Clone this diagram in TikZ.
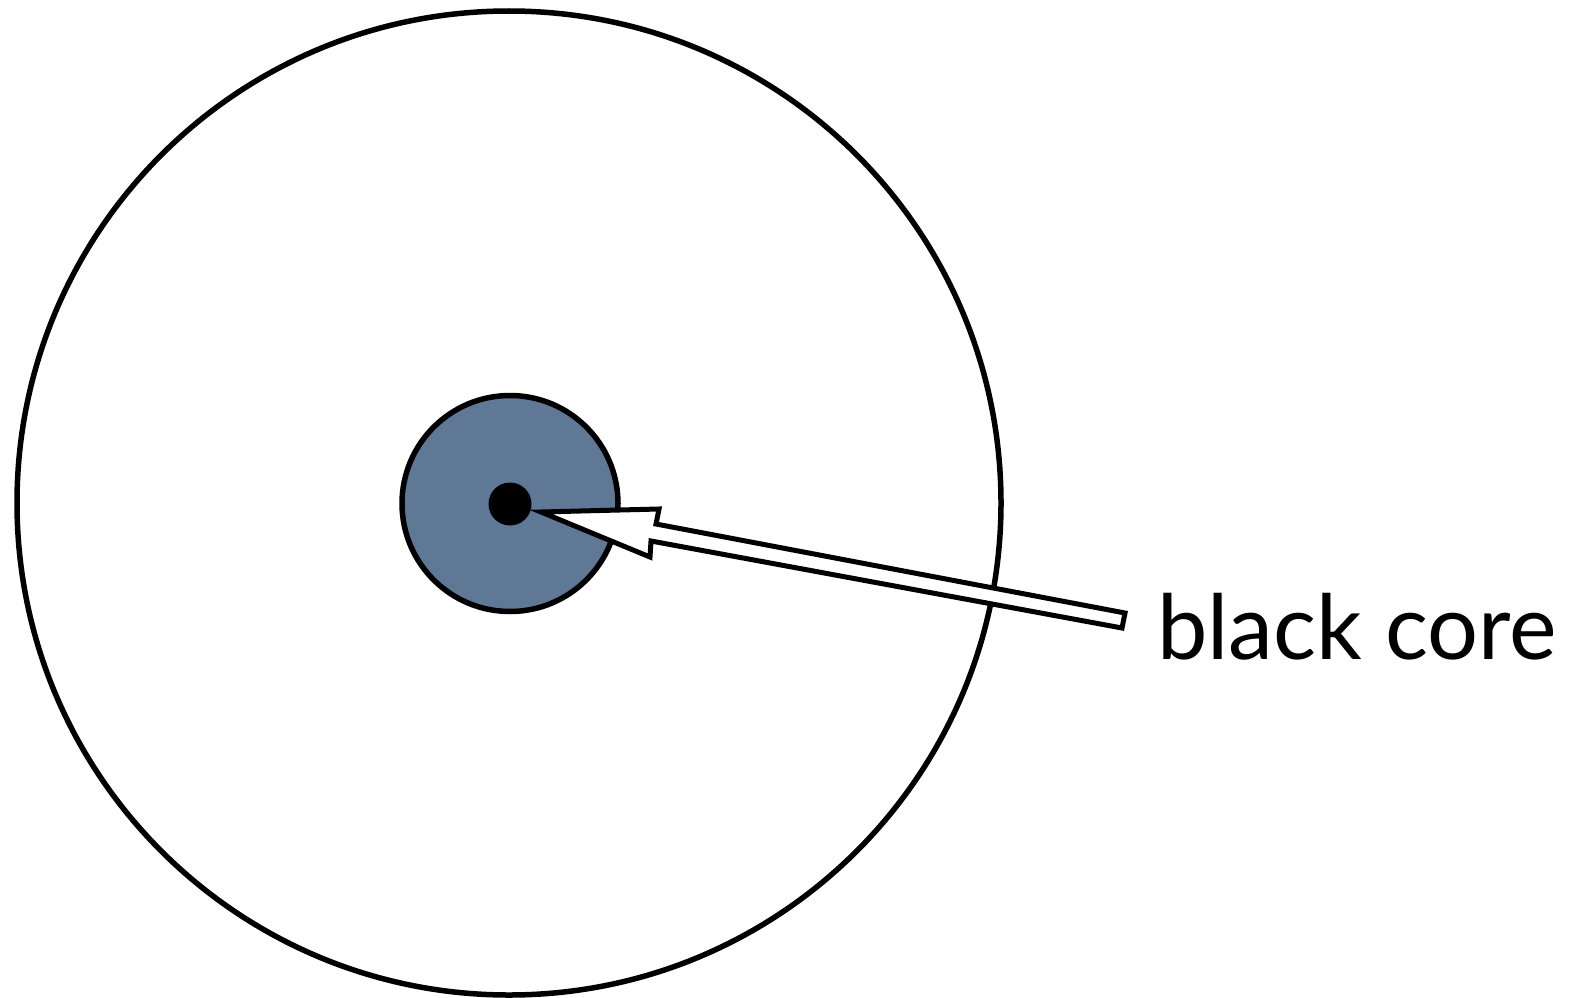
\documentclass[tikz,border=0pt]{standalone}
\usepackage{fontspec}
\setmainfont{Lato}
\definecolor{coreblue}{RGB}{95,120,150}
\begin{document}
\begin{tikzpicture}[x=1pt,y=-1pt,
  ring/.style={circle,draw=black,line width=5.5pt,inner sep=0pt},
  pointer/.style={draw=black,fill=white,line width=5pt,line join=miter},
  lbl/.style={inner sep=0pt,anchor=base west,font=\fontsize{90}{100}\selectfont}]
\useasboundingbox (0,0) rectangle (1579,998);
\node[ring,minimum size=984pt,fill=white] (outer) at (509,503) {};
\node[ring,minimum size=216pt,fill=coreblue] (core) at (510,503.5) {};
\node[circle,fill=black,inner sep=0pt,minimum size=43pt] (dot) at (510,504) {};
\node[lbl] (label) at (1157,659) {black core};
\coordinate (tip) at (541,512);
\draw[pointer] (tip) -- (659,509) -- (656,524) -- (1125,613) -- (1122,628)
  -- (651,541) -- (650,557) -- cycle;
\end{tikzpicture}
\end{document}
